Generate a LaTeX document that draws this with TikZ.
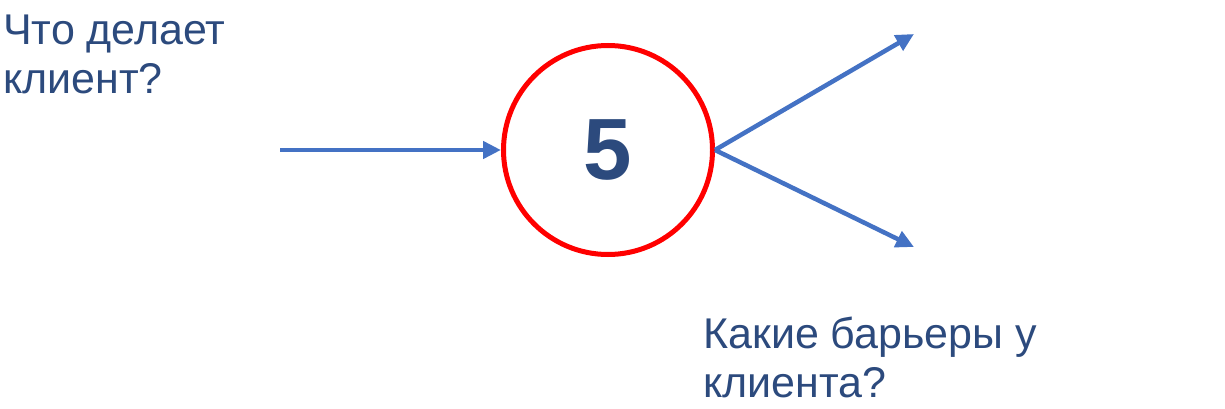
\documentclass[tikz,border=0pt]{standalone}
\usepackage{fontspec}
\setmainfont{Liberation Sans}
\usetikzlibrary{arrows.meta}
\definecolor{txtblue}{HTML}{2C4A7D}
\definecolor{arrblue}{HTML}{4472C4}
\definecolor{ringred}{HTML}{FF0000}
\tikzset{
	flow/.style={line width=4.5pt, color=arrblue, -{Triangle[length=18pt,width=17pt]}},
	question/.style={anchor=base west, inner sep=0pt, align=left, text=txtblue, font=\fontsize{43}{49}\selectfont},
}

\begin{document}
\begin{tikzpicture}[x=1pt, y=1pt]
			%%%%% START %%%%%
			\useasboundingbox (0, 0) rectangle (1225, 408);
			
			\node[question] (who) at (3, 315) {Что делает\\клиент?};
			
			\node[draw=ringred, line width=5pt, circle, minimum size=209pt, inner sep=0pt,
				text=txtblue, font=\fontsize{87}{87}\selectfont\bfseries] (step5) at (608, 258) {5};
			
			\coordinate (inflow) at (280, 258);
			\coordinate (outup) at (914, 374);
			\coordinate (outdown) at (914, 161);
			
			\draw[flow] (inflow) -- (step5.west);
			\draw[flow] (step5.east) -- (outup);
			\draw[flow] (step5.east) -- (outdown);
			
			\node[question] (why) at (703, 11) {Какие барьеры у\\клиента?};
			%%%%% END %%%%%
\end{tikzpicture}
\end{document}
